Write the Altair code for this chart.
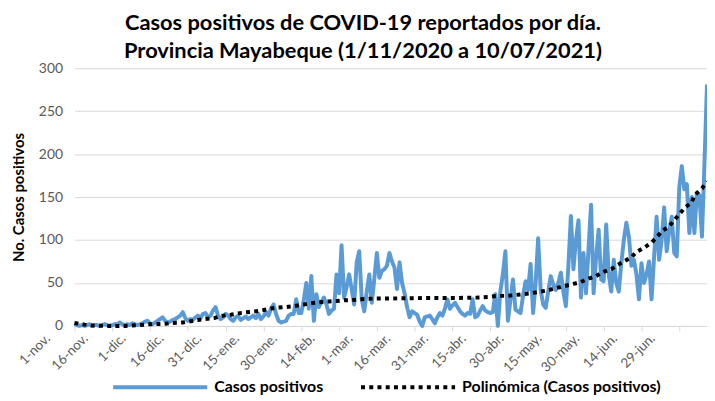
import json
import altair as alt
import pandas as pd

# Daily positive cases, 1 Nov 2020 (day 0) .. 10 Jul 2021 (day 251)
casos = [
    2, 1, 0, 1, 0, 1, 2, 0, 1, 1,
    0, 1, 2, 1, 0, 1, 2, 2, 4, 2,
    1, 2, 1, 3, 2, 1, 2, 3, 5, 6,
    3, 2, 4, 6, 8, 10, 6, 4, 5, 7,
    8, 10, 12, 16, 9, 6, 8, 7, 10, 12,
    9, 14, 15, 10, 12, 18, 22, 12, 8, 10,
    14, 12, 8, 6, 10, 12, 7, 9, 11, 8,
    10, 12, 9, 14, 8, 11, 16, 12, 20, 25,
    14, 6, 4, 5, 6, 12, 14, 14, 31, 15,
    15, 30, 50, 20, 58, 6, 37, 22, 28, 33,
    25, 14, 18, 20, 60, 38, 94, 33, 45, 60,
    43, 25, 74, 87, 31, 17, 40, 60, 27, 55,
    85, 56, 64, 66, 70, 85, 75, 68, 43, 74,
    50, 38, 22, 10, 17, 15, 13, 5, 0, 10,
    11, 12, 8, 3, 10, 15, 12, 20, 31, 20,
    24, 27, 22, 17, 14, 12, 15, 14, 31, 10,
    12, 18, 23, 18, 16, 15, 16, 37, 0, 40,
    60, 87, 6, 30, 54, 19, 17, 15, 35, 52,
    42, 72, 15, 50, 102, 42, 25, 21, 40, 58,
    48, 42, 50, 62, 40, 23, 70, 128, 66, 100,
    123, 33, 85, 38, 90, 141, 38, 80, 112, 54,
    52, 118, 60, 40, 77, 50, 40, 73, 100, 120,
    104, 70, 77, 60, 31, 73, 50, 60, 75, 31,
    80, 127, 77, 100, 138, 87, 110, 127, 85, 81,
    161, 186, 159, 165, 108, 150, 108, 155, 152, 104, 190, 281,
]

# Polynomial trendline at sample days
trend_days = [0, 4, 7, 14, 20, 26, 30, 36, 39, 43, 46, 49, 52, 56, 59, 62, 65,
              68, 72, 75, 78, 81, 84, 87, 91, 94, 97, 101, 104, 107, 110, 113,
              116, 120, 126, 140, 150, 160, 165, 168, 172, 175, 178, 181, 185,
              188, 191, 194, 198, 201, 203, 207, 209, 213, 215, 218, 221, 223,
              226, 229, 231, 233, 236, 238, 240, 242, 245, 246, 249, 251]
trend_vals = [3.5, 1.5, 0.5, 0, 0, 1, 2, 2.5, 3.5, 4, 5.4, 7, 8, 9.6, 12, 13,
              14.6, 15.8, 17, 18.5, 20.4, 21.5, 22, 23, 25, 26.5, 27.5, 28.5,
              29, 30, 30, 31, 31.5, 32, 32, 32.5, 32.5, 33, 34, 35, 35, 36, 37,
              38, 40, 41.5, 44, 46, 49, 51, 54, 58, 62, 66, 70, 75, 80, 86, 91,
              97, 103, 110, 116, 123, 130, 137, 144, 152, 160, 168]

tick_labels = ["1-nov.", "16-nov.", "1-dic.", "16-dic.", "31-dic.", "15-ene.",
               "30-ene.", "14-feb.", "1-mar.", "16-mar.", "31-mar.", "15-abr.",
               "30-abr.", "15-may.", "30-may.", "14-jun.", "29-jun."]
y_ticks = [0, 50, 100, 150, 200, 250, 300]
series = ["Casos positivos", "Polinómica (Casos positivos)"]

rows = [{"dia": i, "valor": v, "serie": series[0]} for i, v in enumerate(casos)]
rows += [{"dia": d, "valor": v, "serie": series[1]} for d, v in zip(trend_days, trend_vals)]
df = pd.DataFrame(rows)

label_expr = json.dumps(tick_labels) + "[round(datum.value / 15)]"
FONT = "Lato"

legend_opts = dict(title=None, orient="none", direction="horizontal",
                   legendX=37, legendY=272, symbolType="stroke",
                   symbolSize=9000, symbolStrokeWidth=4,
                   labelFont=FONT, labelFontSize=16, labelLimit=400,
                   labelFontWeight="bold", labelColor="#000000",
                   labelOffset=5, columnPadding=30)

chart = alt.Chart(df).mark_line(strokeWidth=4, strokeJoin="round").encode(
    x=alt.X("dia:Q",
            scale=alt.Scale(domain=[0, 251], nice=False, zero=False),
            axis=alt.Axis(values=list(range(0, 241, 15)), labelExpr=label_expr,
                          labelAngle=-45, labelAlign="right", labelBaseline="middle",
                          labelOffset=-27, labelPadding=5, grid=False, title=None,
                          domainColor="#d9d9d9", tickColor="#d9d9d9", tickSize=5,
                          labelColor="#595959", labelFont=FONT, labelFontSize=13.5,
                          labelOverlap=False)),
    y=alt.Y("valor:Q",
            scale=alt.Scale(domain=[0, 300], nice=False),
            axis=alt.Axis(values=y_ticks, title="No. Casos positivos", domain=False,
                          ticks=False, labelPadding=12, labelColor="#595959",
                          labelFont=FONT, labelFontSize=14, gridColor="#d9d9d9",
                          titleFont=FONT, titleFontSize=15, titleFontWeight="bold",
                          titleColor="#000000", titlePadding=12)),
    color=alt.Color("serie:N", scale=alt.Scale(domain=series, range=["#5B9BD5", "#000000"]),
                    legend=alt.Legend(**legend_opts)),
    strokeDash=alt.StrokeDash("serie:N", scale=alt.Scale(domain=series, range=[[1, 0], [4, 4.3]]),
                              legend=alt.Legend(**legend_opts)),
).properties(
    width=638,
    height=260,
    title=alt.TitleParams(
        text=["Casos positivos de COVID-19 reportados por día.",
              "Provincia Mayabeque (1/11/2020 a 10/07/2021)"],
        font=FONT, fontSize=22, fontWeight="bold", color="#000000",
        anchor="middle", dx=-28, dy=29, baseline="bottom", offset=5, lineHeight=28),
    autosize=alt.AutoSizeParams(type="none"),
    padding={"left": 67, "top": 59, "right": 0, "bottom": 70},
    background="white",
).configure_view(stroke=None)

chart.save("out.html", embed_options={"renderer": "svg", "actions": False})
